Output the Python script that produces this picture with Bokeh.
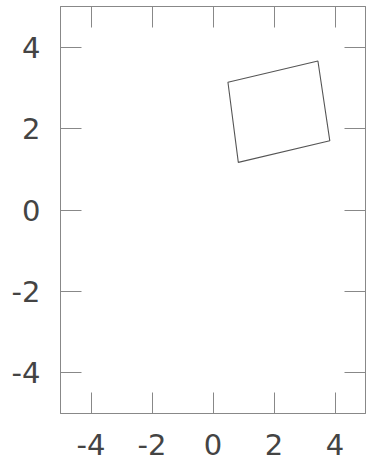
from bokeh.plotting import figure
from bokeh.models import LinearAxis, Range1d, FixedTicker
from bokeh.embed import file_html
from bokeh.resources import INLINE

# data: rotated rectangle vertices
poly_x = [0.49, 3.44, 3.83, 0.83]
poly_y = [3.14, 3.66, 1.70, 1.17]
ticks = [-4, -2, 0, 2, 4]
tick_labels = ["-4", "-2", "0", "2", "4"]

p = figure(width=366, height=470, output_backend="svg", toolbar_location=None,
           x_range=Range1d(-5, 5), y_range=Range1d(-5, 5),
           x_axis_location=None, y_axis_location=None,
           min_border_left=60, min_border_right=1, min_border_top=6, min_border_bottom=57)
p.grid.visible = False
p.outline_line_color = "#888888"
p.outline_line_width = 1
p.background_fill_color = "white"
p.border_fill_color = "white"

def mk(show_labels):
    ax = LinearAxis(ticker=FixedTicker(ticks=ticks))
    ax.major_tick_in = 21
    ax.major_tick_out = 0
    ax.minor_tick_in = 0
    ax.minor_tick_out = 0
    ax.axis_line_color = "#888888"
    ax.major_tick_line_color = "#888888"
    ax.major_label_text_font = "DejaVu Sans"
    ax.major_label_text_font_size = "29px"
    ax.major_label_text_color = "#444444"
    ax.major_label_standoff = 20
    ax.major_label_overrides = {t: s for t, s in zip(ticks, tick_labels)}
    if not show_labels:
        ax.major_label_text_color = None
        ax.major_label_standoff = 0
    return ax

p.add_layout(mk(True), "left")
p.add_layout(mk(True), "below")
p.add_layout(mk(False), "right")
p.add_layout(mk(False), "above")

p.patch(poly_x, poly_y, fill_color=None, line_color="#555555", line_width=1.1)

open("out.html", "w").write(file_html(p, INLINE))
